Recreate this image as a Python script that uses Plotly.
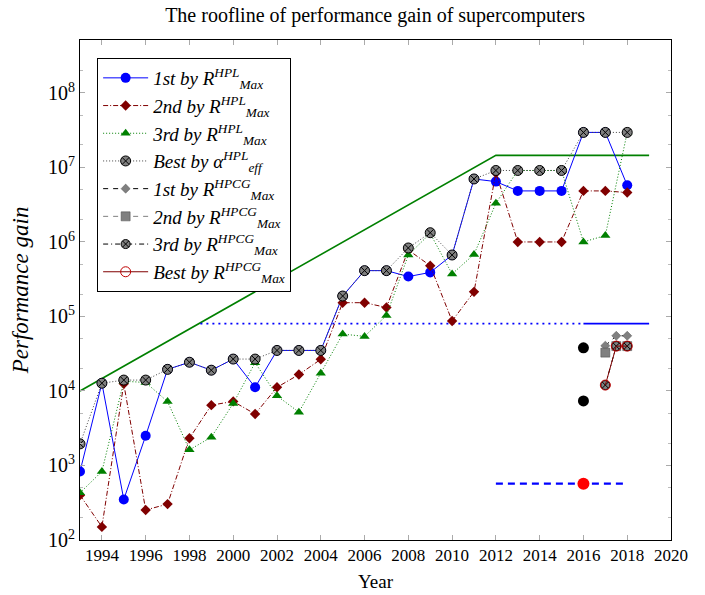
import plotly.graph_objects as go

# ---------------- data ----------------
years = list(range(1993, 2019))

first_hpl = [830, 12700, 350, 2500, 19500, 24300, 19000, 26800, 11200, 35000,
             35000, 35000, 188000, 412000, 412000, 343000, 390000, 668000,
             7.0e6, 6.45e6, 4.84e6, 4.84e6, 4.84e6, 2.95e7, 2.95e7, 5.75e6]
second_hpl = [400, 150, 12500, 253, 303, 2320, 6450, 7240, 4900, 11200,
              16600, 26600, 153000, 153000, 132000, 780000, 480000, 87000,
              214000, 8.5e6, 1.0e6, 1.0e6, 1.0e6, 4.84e6, 4.84e6, 4.6e6]
third_hpl = [430, 830, 13500, 13000, 7200, 1620, 2400, 6800, 24000, 8600,
             5200, 17300, 58000, 54000, 103000, 670000, 1.3e6, 372000,
             680000, 3.3e6, 9.1e6, 9.1e6, 9.1e6, 1.0e6, 1.22e6, 2.95e7]
best_alpha = [1950, 12700, 14000, 14000, 19500, 24300, 19000, 26800, 26800, 35000,
              35000, 35000, 188000, 412000, 412000, 830000, 1.33e6, 668000,
              7.0e6, 9.1e6, 9.1e6, 9.1e6, 9.1e6, 2.95e7, 2.95e7, 2.95e7]

hpcg_years = [2017, 2017.5, 2018]
first_hpcg = [40500, 55000, 55000]
second_hpcg = [32700, 40000, 40000]
third_hpcg = [12000, 40000, 40000]
best_hpcg = [12000, 40000, 40000]

roof_years = [1993, 2012, 2019]
roof_vals = [1e4, 1.45e7, 1.45e7]

hline_dot_years = [1998.5, 2016]
hline_solid_years = [2016, 2019]
hline_val = 8e4

black_years = [2016, 2016]
black_vals = [38000, 7350]

red_year = [2016]
red_val = [570]
dash_years = [2012, 2018]
dash_val = 570

legend_names = [
    "<i>1st by R</i><sup><i>HPL</i></sup><sub><i>Max</i></sub>",
    "<i>2nd by R</i><sup><i>HPL</i></sup><sub><i>Max</i></sub>",
    "<i>3rd by R</i><sup><i>HPL</i></sup><sub><i>Max</i></sub>",
    "<i>Best by α</i><sup><i>HPL</i></sup><sub><i>eff</i></sub>",
    "<i>1st by R</i><sup><i>HPCG</i></sup><sub><i>Max</i></sub>",
    "<i>2nd by R</i><sup><i>HPCG</i></sup><sub><i>Max</i></sub>",
    "<i>3rd by R</i><sup><i>HPCG</i></sup><sub><i>Max</i></sub>",
    "<i>Best by R</i><sup><i>HPCG</i></sup><sub><i>Max</i></sub>",
]

xtick_vals = list(range(1994, 2021, 2))
ytick_exp = [2, 3, 4, 5, 6, 7, 8]

# ---------------- figure ----------------
BLUE = "#0000ff"
DRED = "#800000"
DGREEN = "#008000"
GRAY = "#808080"

fig = go.Figure()

# reference lines (no legend)
fig.add_trace(go.Scatter(x=roof_years, y=roof_vals, mode="lines",
                         line=dict(color=DGREEN, width=1.6), showlegend=False))
fig.add_trace(go.Scatter(x=hline_dot_years, y=[hline_val] * 2, mode="lines",
                         line=dict(color=BLUE, width=1.6, dash="2px,4px"), showlegend=False))
fig.add_trace(go.Scatter(x=hline_solid_years, y=[hline_val] * 2, mode="lines",
                         line=dict(color=BLUE, width=1.6), showlegend=False))
fig.add_trace(go.Scatter(x=dash_years, y=[dash_val] * 2, mode="lines",
                         line=dict(color=BLUE, width=2.2, dash="7px,5px"), showlegend=False))

# HPL series
fig.add_trace(go.Scatter(x=years, y=first_hpl, mode="lines+markers", name=legend_names[0],
                         line=dict(color=BLUE, width=1),
                         marker=dict(symbol="circle", size=10, color=BLUE)))
fig.add_trace(go.Scatter(x=years, y=second_hpl, mode="lines+markers", name=legend_names[1],
                         line=dict(color=DRED, width=1, dash="5px,2px,1px,2px"),
                         marker=dict(symbol="diamond", size=8, color=DRED)))
fig.add_trace(go.Scatter(x=years, y=third_hpl, mode="lines+markers", name=legend_names[2],
                         line=dict(color=DGREEN, width=1, dash="1px,2px"),
                         marker=dict(symbol="triangle-up", size=9, color=DGREEN)))
fig.add_trace(go.Scatter(x=years, y=best_alpha, mode="lines+markers", name=legend_names[3],
                         line=dict(color="#444444", width=1, dash="1px,2px"),
                         marker=dict(symbol="circle-x", size=10, color=GRAY,
                                     line=dict(color="black", width=1))))

# HPCG series
fig.add_trace(go.Scatter(x=hpcg_years, y=first_hpcg, mode="lines+markers", name=legend_names[4],
                         line=dict(color="black", width=1, dash="5px,5px"),
                         marker=dict(symbol="diamond", size=7, color=GRAY,
                                     line=dict(color="#555555", width=0.5))))
fig.add_trace(go.Scatter(x=hpcg_years, y=second_hpcg, mode="lines+markers", name=legend_names[5],
                         line=dict(color=GRAY, width=1, dash="5px,5px"),
                         marker=dict(symbol="square", size=9, color=GRAY,
                                     line=dict(color="#444444", width=0.5))))
fig.add_trace(go.Scatter(x=hpcg_years, y=third_hpcg, mode="lines+markers", name=legend_names[6],
                         line=dict(color="black", width=1, dash="5px,3px,1px,3px"),
                         marker=dict(symbol="circle-x", size=9, color=GRAY,
                                     line=dict(color="black", width=1))))
fig.add_trace(go.Scatter(x=hpcg_years, y=best_hpcg, mode="lines+markers", name=legend_names[7],
                         line=dict(color=DRED, width=1),
                         marker=dict(symbol="circle-open", size=10, color="#c00000",
                                     line=dict(width=1))))

# single points
fig.add_trace(go.Scatter(x=black_years, y=black_vals, mode="markers",
                         marker=dict(symbol="circle", size=11, color="black"), showlegend=False))
fig.add_trace(go.Scatter(x=red_year, y=red_val, mode="markers",
                         marker=dict(symbol="circle", size=12, color="red"), showlegend=False))

FONT = "Liberation Serif"

fig.update_layout(
    width=705, height=595,
    margin=dict(l=80, r=34, t=40, b=55, autoexpand=False),
    paper_bgcolor="white", plot_bgcolor="white",
    font=dict(family=FONT, size=16, color="black"),
    title=dict(text="The roofline of performance gain of supercomputers",
               x=0.532, xanchor="center", y=0.975, yanchor="middle",
               font=dict(family=FONT, size=20)),
    legend=dict(x=0.029, y=0.964, xanchor="left", yanchor="top",
                bordercolor="black", borderwidth=1, bgcolor="white",
                font=dict(family=FONT, size=19), tracegroupgap=0,
                itemwidth=45),
    xaxis=dict(range=[1993, 2020], tickvals=xtick_vals, automargin=False,
               ticks="inside", ticklen=5, tickcolor="#aaaaaa",
               showline=True, linecolor="black", linewidth=1, mirror="allticks",
               showgrid=False, zeroline=False,
               tickfont=dict(family=FONT, size=17)),
    yaxis=dict(type="log", range=[2, 8.71], automargin=False,
               tickvals=[10 ** e for e in ytick_exp],
               ticktext=["10<sup>%d</sup>" % e for e in ytick_exp],
               ticks="inside", ticklen=5, tickcolor="#aaaaaa",
               minor=dict(ticks="inside", ticklen=3, tickcolor="#bbbbbb", showgrid=False),
               showline=True, linecolor="black", linewidth=1, mirror="allticks",
               showgrid=False, zeroline=False,
               tickfont=dict(family=FONT, size=20)),
    annotations=[
        dict(text="Year", xref="paper", yref="paper", x=0.5, y=-0.082,
             xanchor="center", yanchor="middle", showarrow=False,
             font=dict(family=FONT, size=19)),
        dict(text="<i>Performance gain</i>", xref="paper", yref="paper",
             x=-0.101, y=0.5, xanchor="center", yanchor="middle", textangle=-90,
             showarrow=False, font=dict(family=FONT, size=23)),
    ],
)

fig.write_html("out.html")
